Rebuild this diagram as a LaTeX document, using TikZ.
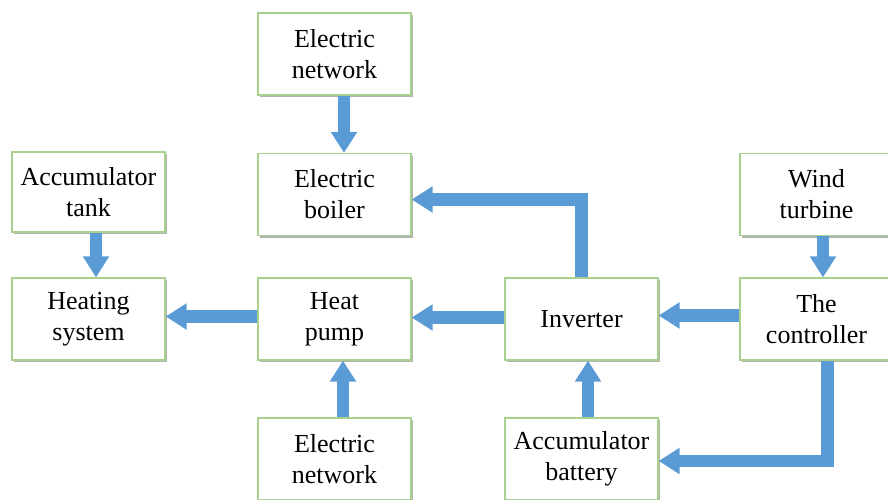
\documentclass[tikz,border=0pt]{standalone}
\usepackage{fontspec}
\setmainfont{Liberation Serif}
\usetikzlibrary{arrows.meta,shadows}
\definecolor{boxgreen}{HTML}{A9D18E}
\definecolor{arrowblue}{HTML}{5B9BD5}
\tikzset{
  blockbox/.style={draw=boxgreen, line width=1.2pt, fill=white,
    minimum width=153pt, minimum height=82pt, inner sep=0pt,
    align=center, font=\fontsize{26}{31}\selectfont,
    drop shadow={shadow xshift=2pt, shadow yshift=-2pt, fill=black, opacity=0.3}},
  blk/.style={draw=arrowblue, line width=12.5pt, line join=miter,
    -{Triangle[width=25pt,length=21pt]}}
}
\begin{document}
\begin{tikzpicture}[x=1pt,y=-1pt]
\useasboundingbox (0,0) rectangle (888,499);
\node[blockbox] (en1) at (334.5,54) {Electric\\network};
\node[blockbox] (boiler) at (334.5,194.5) {Electric\\boiler};
\node[blockbox, minimum height=80pt] (tank) at (88.5,192) {Accumulator\\tank};
\node[blockbox] (hs) at (88.5,319) {Heating\\system};
\node[blockbox] (hp) at (334.5,319) {Heat\\pump};
\node[blockbox] (inv) at (581.5,319) {Inverter};
\node[blockbox] (ctrl) at (816.5,319) {The\\controller};
\node[blockbox] (wind) at (816.5,194.5) {Wind\\turbine};
\node[blockbox] (en2) at (334.5,459) {Electric\\network};
\node[blockbox] (batt) at (581.5,459) {Accumulator\\battery};

\draw[blk] ([xshift=9.5pt]en1.south) -- ([xshift=9.5pt]boiler.north);
\draw[blk] ([xshift=8.5pt]en2.north) -- ([xshift=8.5pt]hp.south);
\draw[blk] ([xshift=7.5pt]tank.south) -- ([xshift=7.5pt]hs.north);
\draw[blk] ([yshift=2.5pt]hp.west) -- ([yshift=2.5pt]hs.east);
\draw[blk] ([yshift=1.5pt]inv.west) -- ([yshift=1.5pt]hp.east);
\draw[blk] ([yshift=3.5pt]ctrl.west) -- ([yshift=3.5pt]inv.east);
\draw[blk] ([xshift=6.5pt]wind.south) -- ([xshift=6.5pt]ctrl.north);
\draw[blk] ([xshift=6.5pt]batt.north) -- ([xshift=6.5pt]inv.south);
\draw[blk] (inv.north) |- ([yshift=-5pt]boiler.east);
\draw[blk] ([xshift=11pt]ctrl.south) |- ([yshift=-2pt]batt.east);
\end{tikzpicture}
\end{document}
